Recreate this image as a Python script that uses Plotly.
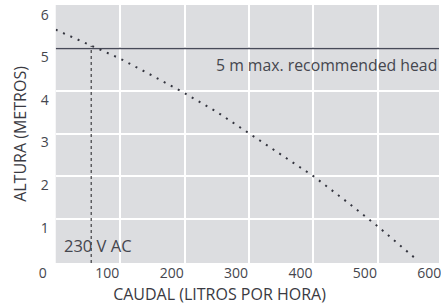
import plotly.graph_objects as go

# Data
flow = [0, 55, 100, 150, 200, 250, 300, 350, 400, 450, 500, 558]
head = [5.44, 5.06, 4.76, 4.36, 3.95, 3.51, 3.0, 2.5, 2.0, 1.42, 0.82, 0.07]
max_head = 5
op_flow = 55
op_head = 5.06
x_ticks = [0, 100, 200, 300, 400, 500, 600]
y_ticks = [1, 2, 3, 4, 5, 6]
x_title = "CAUDAL (LITROS POR HORA)"
y_title = "ALTURA (METROS)"
max_label = "5 m max. recommended head"
power_label = "230 V AC"

W, H = 441, 306
L, T, B = 56, 5, 43
FONT = "Open Sans"
TXT = "#45464e"

x_range = [0, 595]
y_range = [-0.04, 6.02]
px_per_unit = (W - L) / (x_range[1] - x_range[0])
shift_units = 13 / px_per_unit
# label axis spans full width, labels shifted 13 px left of gridlines
x2_range = [x_range[0] - L / px_per_unit + shift_units, x_range[1] + shift_units]

fig = go.Figure()
fig.add_trace(go.Scatter(x=[x_range[0], x_range[1]], y=[max_head, max_head], mode="lines",
                         line=dict(color="#474a58", width=1.5), hoverinfo="skip"))
fig.add_trace(go.Scatter(x=[op_flow, op_flow], y=[y_range[0], op_head], mode="lines",
                         line=dict(color="#1e1e22", width=1, dash="3px,3px"), hoverinfo="skip"))
fig.add_trace(go.Scatter(x=flow, y=head, mode="lines",
                         line=dict(color="#34353f", width=2, dash="2px,6px"), hoverinfo="skip"))
fig.add_trace(go.Scatter(x=[], y=[], xaxis="x2", yaxis="y2", mode="lines", hoverinfo="skip"))

fig.add_shape(type="rect", xref="paper", yref="paper", x0=L / W, x1=1, y0=0, y1=1,
              fillcolor="#dcdde0", line=dict(width=0), layer="below")

fig.add_annotation(x=1, xref="paper", y=max_head, yref="y", yshift=-17, text=max_label,
                   showarrow=False, xanchor="right", font=dict(family=FONT, size=15.8, color=TXT))
fig.add_annotation(x=x_range[0], xref="x", y=0, yref="y", xshift=6, yshift=16, text=power_label,
                   showarrow=False, xanchor="left", font=dict(family=FONT, size=16.5, color=TXT))

fig.update_layout(
    width=W, height=H,
    margin=dict(l=0, r=0, t=T, b=B),
    paper_bgcolor="white", plot_bgcolor="rgba(0,0,0,0)",
    showlegend=False,
    font=dict(family=FONT, size=14, color=TXT),
    xaxis=dict(domain=[L / W, 1], range=x_range, tickvals=x_ticks, showticklabels=False,
               showgrid=True, gridcolor="white", gridwidth=1.5, zeroline=False, showline=False,
               ticks=""),
    xaxis2=dict(domain=[0, 1], anchor="free", position=0, range=x2_range, tickvals=x_ticks,
                showgrid=False, zeroline=False, showline=False, ticks="",
                ticklabeloverflow="allow",
                tickfont=dict(family=FONT, size=14, color=TXT),
                title=dict(text=x_title, font=dict(family=FONT, size=16, color="#3a3a42"), standoff=7)),
    yaxis=dict(domain=[0, 1], range=y_range, tickvals=y_ticks, showgrid=True, gridcolor="white",
               gridwidth=1.5, zeroline=False, showline=False, ticks="",
               ticklabelshift=9, ticklabelstandoff=6, ticklabeloverflow="allow",
               tickfont=dict(family=FONT, size=14, color=TXT),
               title=dict(text=y_title, font=dict(family=FONT, size=16, color="#3a3a42"), standoff=10)),
    yaxis2=dict(overlaying="y", anchor="x2", range=y_range, visible=False, showgrid=False,
                zeroline=False),
)
fig.write_html("out.html", config={"displayModeBar": False},
               post_script="document.body.style.margin='0';document.body.style.overflow='hidden';")
